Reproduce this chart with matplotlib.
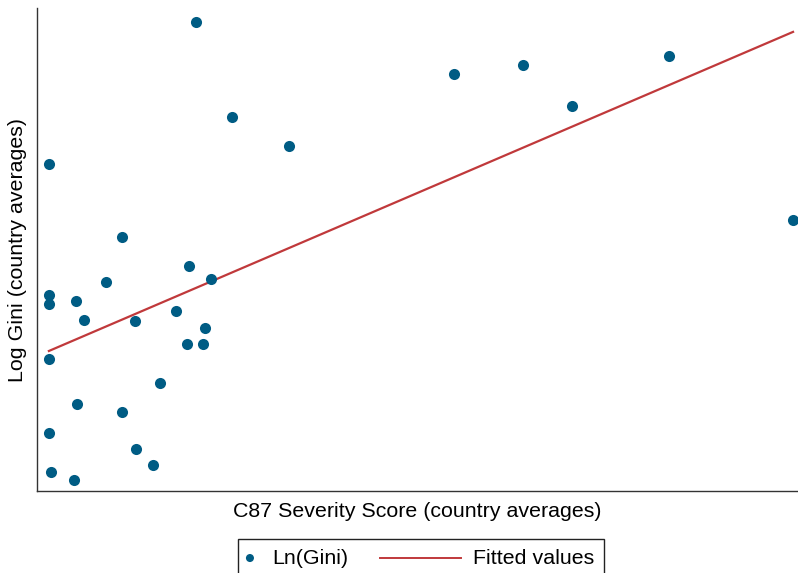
import numpy as np
import matplotlib.pyplot as plt
from matplotlib.offsetbox import AnchoredOffsetbox, HPacker, DrawingArea, TextArea
from matplotlib.patches import Circle
from matplotlib.lines import Line2D

plt.rcParams['font.family'] = ['Liberation Sans', 'DejaVu Sans']

# country averages: C87 severity score vs. log Gini
severity = [0.594, 0.000, 0.739, 0.969, 1.635, 1.914, 2.112, 2.503, 3.004,
            0.295, 0.565, 0.230, 0.654, 0.000, 0.000, 0.109, 0.141, 0.347,
            0.513, 0.630, 0.557, 0.622, 0.000, 0.448, 0.113, 0.295, 0.000,
            0.351, 0.420, 0.008, 0.101]
ln_gini = [3.900, 3.714, 3.776, 3.738, 3.832, 3.844, 3.790, 3.856, 3.640,
           3.618, 3.580, 3.559, 3.563, 3.543, 3.530, 3.535, 3.509, 3.508,
           3.521, 3.499, 3.478, 3.478, 3.458, 3.427, 3.399, 3.389, 3.362,
           3.341, 3.320, 3.310, 3.300]

# fitted line, endpoints over the observed range
fit_x = [0.0, 3.004]
fit_y = [3.469, 3.887]

DOT = "#005c84"
RED = "#c0393b"
FS = 15.4

fig = plt.figure(figsize=(7.98, 5.73), dpi=100)
ax = fig.add_axes([37 / 798, 82 / 573, 761 / 798, 483 / 573])

ax.scatter(severity, ln_gini, s=64, color=DOT, linewidths=0, zorder=3)
ax.plot(fit_x, fit_y, color=RED, lw=1.6, zorder=2)

ax.set_xlim(-0.048, 3.024)
ax.set_ylim(3.2856, 3.9183)
ax.set_xticks([])
ax.set_yticks([])
for side in ("top", "right"):
    ax.spines[side].set_visible(False)
for side in ("left", "bottom"):
    ax.spines[side].set_color("#333333")
    ax.spines[side].set_linewidth(1.0)

ax.set_xlabel("C87 Severity Score (country averages)", fontsize=FS,
              labelpad=8)
ax.set_ylabel("Log Gini (country averages)", fontsize=FS, labelpad=7)

# legend row below the axes: dot key, label, line key, label
h = 27.4
dot_key = DrawingArea(24.3, h)
dot_key.add_artist(Circle((8.6, h / 2), 2.9, color=DOT, lw=0))
line_key = DrawingArea(90, h)
line_key.add_artist(Line2D([22.8, 81.4], [h / 2, h / 2], color=RED, lw=1.4))
tail = DrawingArea(7.2, h)
row = HPacker(children=[dot_key, TextArea("Ln(Gini)", textprops=dict(fontsize=FS)),
                        line_key, TextArea("Fitted values", textprops=dict(fontsize=FS)),
                        tail],
              align="center", pad=0, sep=0)
box = AnchoredOffsetbox(loc="upper left", child=row, pad=0, borderpad=0,
                        frameon=True, bbox_to_anchor=(238 / 798, 1 - 539 / 573),
                        bbox_transform=fig.transFigure)
box.patch.set_edgecolor("#222222")
box.patch.set_linewidth(1.0)
fig.add_artist(box)

fig.savefig("out.png", dpi=100)
